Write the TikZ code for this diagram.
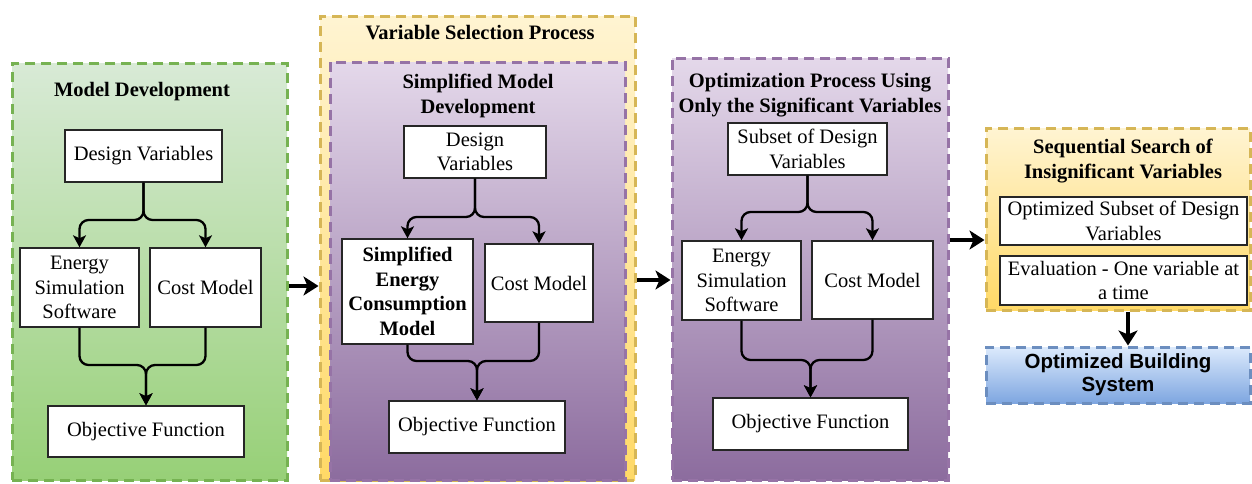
\documentclass[tikz,border=0pt]{standalone}
\usepackage{fontspec}
\setmainfont{Liberation Serif}
\newfontfamily\sansf{Liberation Sans}
\usetikzlibrary{arrows.meta}
\newcommand\fsz{\fontsize{20.5}{24.5}\selectfont}
\definecolor{grnT}{RGB}{216,234,214}
\definecolor{grnB}{RGB}{151,208,119}
\definecolor{grnS}{RGB}{118,178,82}
\definecolor{purT}{RGB}{228,216,234}
\definecolor{purB}{RGB}{140,108,158}
\definecolor{purS}{RGB}{150,115,166}
\definecolor{yelT}{RGB}{255,244,210}
\definecolor{yelB}{RGB}{255,217,102}
\definecolor{yelS}{RGB}{214,182,86}
\definecolor{bluT}{RGB}{220,234,252}
\definecolor{bluB}{RGB}{126,166,224}
\definecolor{bluS}{RGB}{108,142,191}
\tikzset{
  container/.style={line width=3pt, dash pattern=on 10pt off 6pt, inner sep=0pt},
  gcont/.style={container, draw=grnS, top color=grnT, bottom color=grnB},
  pcont/.style={container, draw=purS, top color=purT, bottom color=purB},
  ycont/.style={container, draw=yelS, top color=yelT, bottom color=yelB},
  bcont/.style={container, draw=bluS, top color=bluT, bottom color=bluB},
  box/.style={draw=black!85, line width=1.4pt, fill=white, align=center, inner sep=2pt, font=\fsz},
  ttl/.style={font=\fsz\bfseries, align=center, inner sep=0pt},
  conn/.style={line width=2.3pt, rounded corners=9pt, -{Stealth[length=12pt,width=13pt,inset=3pt]}},
  big/.style={line width=4pt, -{Stealth[length=15pt,width=19pt,inset=4pt]}}
}
\begin{document}
\begin{tikzpicture}[x=1pt,y=-1pt]
\useasboundingbox (0,0) rectangle (1252,483);

% ---------- containers ----------
\node (G)  [gcont, minimum width=275pt, minimum height=417pt] at (149.5,271.5) {};
\node (Y1) [ycont, minimum width=315pt, minimum height=464pt] at (477.5,248) {};
\node (P1) [pcont, minimum width=295pt, minimum height=418pt] at (477.5,271) {};
\node (P2) [pcont, minimum width=276pt, minimum height=422pt] at (810,269) {};
\node (Y2) [ycont, minimum width=264pt, minimum height=182pt] at (1118,219) {};
\node (BL) [bcont, minimum width=264pt, minimum height=56pt, align=center,
  font={\sansf\bfseries\fontsize{20.5}{23}\selectfont}] at (1118,375) {Optimized Building\\System};

% ---------- titles ----------
\node (tG)  [ttl] at (142,92) {Model Development};
\node (tY1) [ttl] at (480,33) {Variable Selection Process};
\node (tP1) [ttl] at (478,96) {Simplified Model\\Development};
\node (tP2) [ttl] at (810,95) {Optimization Process Using\\Only the Significant Variables};
\node (tY2) [ttl] at (1123,161) {Sequential Search of\\Insignificant Variables};

% ---------- column 1 ----------
\node (dv1)  [box, minimum width=157pt, minimum height=52pt] at (143.5,156) {Design Variables};
\node (ess1) [box, minimum width=119pt, minimum height=79pt] at (79.5,287.5) {Energy\\Simulation\\Software};
\node (cm1)  [box, minimum width=111pt, minimum height=79pt] at (205.5,287.5) {Cost Model};
\node (of1)  [box, minimum width=196pt, minimum height=51pt] at (146,431.5) {Objective Function};
\coordinate (s1) at (0,220);
\coordinate (m1) at (0,365);
\draw[conn] (dv1.south) -- (dv1.south |- s1) -| (ess1.north);
\draw[conn] (dv1.south) -- (dv1.south |- s1) -| (cm1.north);
\draw[conn] (ess1.south) -- (ess1.south |- m1) -| (of1.north);
\draw[conn] (cm1.south) -- (cm1.south |- m1) -| (of1.north);

% ---------- column 2 ----------
\node (dv2)  [box, minimum width=142pt, minimum height=52pt] at (475,152) {Design\\Variables};
\node (se2)  [box, minimum width=131pt, minimum height=105pt, font=\fsz\bfseries] at (407.5,291.5) {Simplified\\Energy\\Consumption\\Model};
\node (cm2)  [box, minimum width=108pt, minimum height=78pt] at (539,283) {Cost Model};
\node (of2)  [box, minimum width=176pt, minimum height=52pt] at (477,427) {Objective Function};
\coordinate (s2) at (0,217);
\coordinate (m2) at (0,361);
\draw[conn] (dv2.south) -- (dv2.south |- s2) -| (se2.north);
\draw[conn] (dv2.south) -- (dv2.south |- s2) -| (cm2.north);
\draw[conn] (se2.south) -- (se2.south |- m2) -| (of2.north);
\draw[conn] (cm2.south) -- (cm2.south |- m2) -| (of2.north);

% ---------- column 3 ----------
\node (dv3)  [box, minimum width=159pt, minimum height=52pt] at (807.5,149) {Subset of Design\\Variables};
\node (ess3) [box, minimum width=119pt, minimum height=79pt] at (741.5,280.5) {Energy\\Simulation\\Software};
\node (cm3)  [box, minimum width=121pt, minimum height=78pt] at (872.5,280) {Cost Model};
\node (of3)  [box, minimum width=195pt, minimum height=52pt] at (810.5,424) {Objective Function};
\coordinate (s3) at (0,212);
\coordinate (m3) at (0,360);
\draw[conn] (dv3.south) -- (dv3.south |- s3) -| (ess3.north);
\draw[conn] (dv3.south) -- (dv3.south |- s3) -| (cm3.north);
\draw[conn] (ess3.south) -- (ess3.south |- m3) -| (of3.north);
\draw[conn] (cm3.south) -- (cm3.south |- m3) -| (of3.north);

% ---------- column 4 ----------
\node (b41) [box, minimum width=247pt, minimum height=48pt, inner sep=0pt] at (1123.5,221) {Optimized Subset of Design\\Variables};
\node (b42) [box, minimum width=247pt, minimum height=49pt, inner sep=0pt] at (1123.5,280.5) {Evaluation - One variable at\\a time};

% ---------- big arrows ----------
\coordinate (h1) at (0,286);
\coordinate (h2) at (0,280);
\coordinate (h3) at (0,240);
\coordinate (v4) at (1128,0);
\draw[big] (G.east |- h1) -- (Y1.west |- h1);
\draw[big] (Y1.east |- h2) -- (P2.west |- h2);
\draw[big] (P2.east |- h3) -- (Y2.west |- h3);
\draw[big] (Y2.south -| v4) -- (BL.north -| v4);
\end{tikzpicture}
\end{document}
